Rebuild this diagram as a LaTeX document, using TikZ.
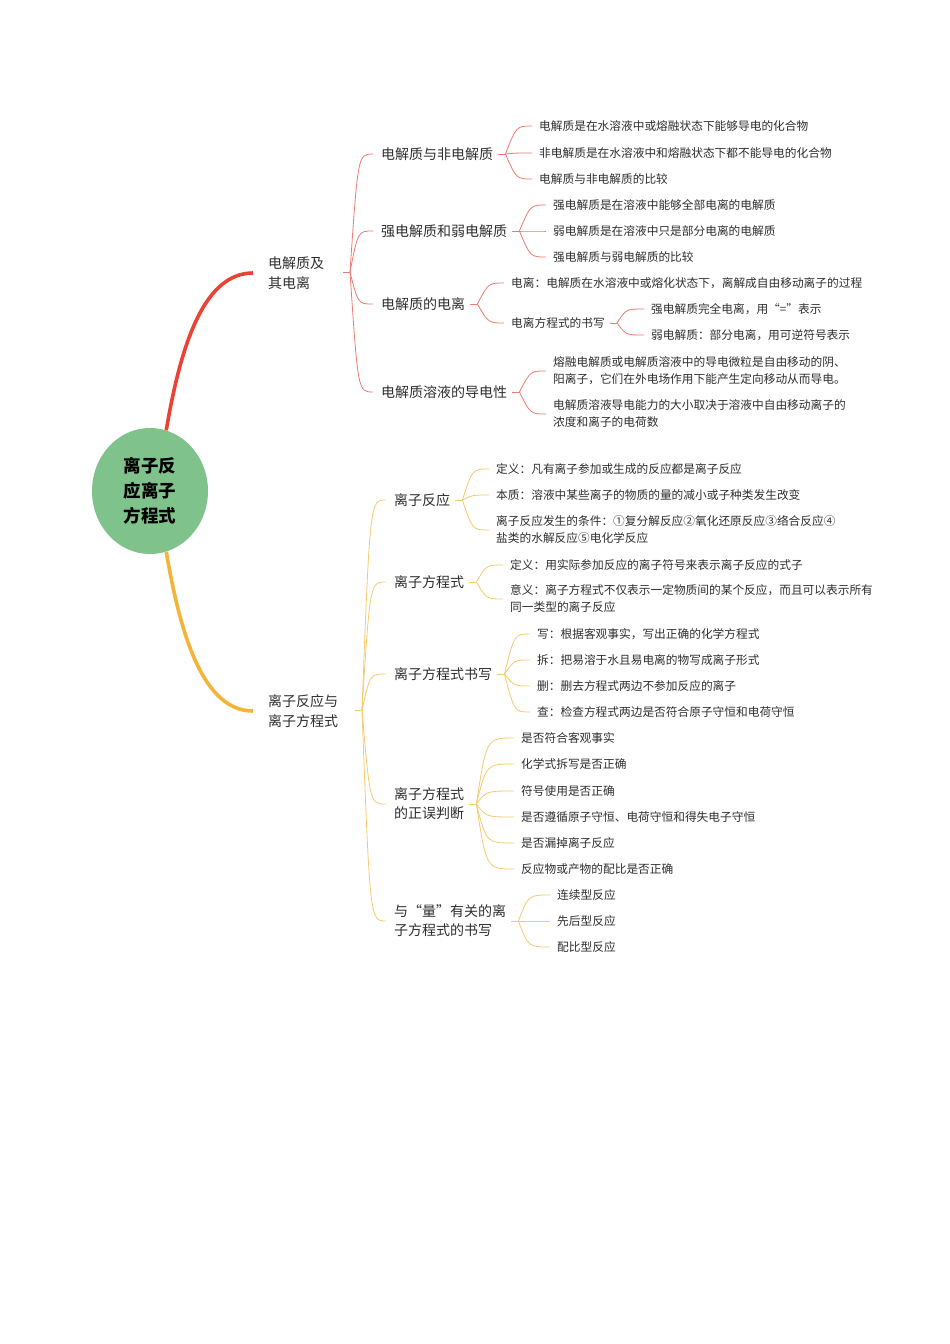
\documentclass[tikz,border=0pt]{standalone}
\usepackage{fontspec}
\setmainfont{Noto Sans CJK SC}
\usetikzlibrary{calc,shapes.geometric}
\definecolor{rootgreen}{HTML}{7FC28B}
\definecolor{redmain}{HTML}{EA4335}
\definecolor{redthin}{HTML}{EC7A72}
\definecolor{yelmain}{HTML}{F4B43A}
\definecolor{yelthin}{HTML}{F5C970}
\definecolor{txtgray}{HTML}{2E2E2E}

\begin{document}
\begin{tikzpicture}[x=1pt,y=-1pt,
  root/.style={ellipse,fill=rootgreen,minimum width=116pt,minimum height=126pt,inner sep=0pt,align=center,font=\fontsize{17.5}{25}\selectfont\bfseries},
  lvone/.style={anchor=west,inner sep=0pt,yshift=-1pt,align=left,text=txtgray,font=\fontsize{14}{20}\selectfont},
  lvtwo/.style={anchor=west,inner sep=0pt,yshift=-1pt,align=left,text=txtgray,font=\fontsize{14}{19}\selectfont},
  leaf/.style={anchor=west,inner sep=0pt,yshift=-1pt,align=left,text=txtgray,font=\fontsize{11.7}{17}\selectfont},
  redthick/.style={draw=redmain,line width=3.6pt},
  yelthick/.style={draw=yelmain,line width=3.6pt},
  redln/.style={draw=redthin,line width=0.8pt},
  yelln/.style={draw=yelthin,line width=0.8pt}
]
\useasboundingbox (0,0) rectangle (950,1344);

% root and first level
\node[root] (root) at (150,491) {离子反\\应离子\\方程式};
\node[lvone] (elec) at (268,272) {电解质及\\其电离};
\node[lvone] (ionr) at (268,710) {离子反应与\\离子方程式};

\draw[redthick] (root.75) .. controls +(15,-89) and +(-48,0) .. ($(elec.west)+(-15,0)$);
\draw[yelthick] (root.-75) .. controls +(15,89) and +(-48,0) .. ($(ionr.west)+(-15,0)$);

% electrolytes
\coordinate (jelec) at (350,272);
\node[lvtwo] (nonel) at (381,153) {电解质与非电解质};
\node[lvtwo] (strong) at (381,230) {强电解质和弱电解质};
\node[lvtwo] (ioniz) at (381,303) {电解质的电离};
\node[lvtwo] (cond) at (381,391) {电解质溶液的导电性};

\node[leaf] (na) at (539,125) {电解质是在水溶液中或熔融状态下能够导电的化合物};
\node[leaf] (nb) at (539,152) {非电解质是在水溶液中和熔融状态下都不能导电的化合物};
\node[leaf] (nc) at (539,178) {电解质与非电解质的比较};
\node[leaf] (sa) at (553,204) {强电解质是在溶液中能够全部电离的电解质};
\node[leaf] (sb) at (553,230) {弱电解质是在溶液中只是部分电离的电解质};
\node[leaf] (sc) at (553,256) {强电解质与弱电解质的比较};
\node[leaf] (ia) at (511,282) {电离：电解质在水溶液中或熔化状态下，离解成自由移动离子的过程};
\node[leaf] (ib) at (511,322) {电离方程式的书写};
\node[leaf] (iba) at (651,308) {强电解质完全电离，用“=”表示};
\node[leaf] (ibb) at (651,334) {弱电解质：部分电离，用可逆符号表示};
\node[leaf] (ca) at (553,370) {熔融电解质或电解质溶液中的导电微粒是自由移动的阴、\\阳离子，它们在外电场作用下能产生定向移动从而导电。};
\node[leaf] (cb) at (553,413) {电解质溶液导电能力的大小取决于溶液中自由移动离子的\\浓度和离子的电荷数};

\draw[redln] ($(jelec)+(-7,0)$) -- (jelec);
\foreach \t in {nonel,strong,ioniz,cond}
  \draw[redln] (jelec) .. controls ($(jelec |- \t.west)+(8,0)$) .. ($(\t.west)+(-8,0)$);

\coordinate (jnonel) at ($(nonel.east)+(12,0)$);
\coordinate (jstrong) at ($(strong.east)+(12,0)$);
\coordinate (jioniz) at ($(ioniz.east)+(12,0)$);
\coordinate (jib) at ($(ib.east)+(12,0)$);
\coordinate (jcond) at ($(cond.east)+(12,0)$);
\foreach \p in {nonel,strong,ioniz,ib,cond}
  \draw[redln] ($(\p.east)+(5,0)$) -- (j\p);
\foreach \t in {na,nb,nc}
  \draw[redln] (jnonel) .. controls ($(jnonel |- \t.west)+(11,0)$) .. ($(\t.west)+(-7,0)$);
\foreach \t in {sa,sb,sc}
  \draw[redln] (jstrong) .. controls ($(jstrong |- \t.west)+(11,0)$) .. ($(\t.west)+(-7,0)$);
\foreach \t in {ia,ib}
  \draw[redln] (jioniz) .. controls ($(jioniz |- \t.west)+(11,0)$) .. ($(\t.west)+(-7,0)$);
\foreach \t in {iba,ibb}
  \draw[redln] (jib) .. controls ($(jib |- \t.west)+(9,0)$) .. ($(\t.west)+(-7,0)$);
\foreach \t in {ca,cb}
  \draw[redln] (jcond) .. controls ($(jcond |- \t.west)+(11,0)$) .. ($(\t.west)+(-7,0)$);

% ionic reactions
\coordinate (jionr) at (362,710);
\node[lvtwo] (react) at (394,499) {离子反应};
\node[lvtwo] (equ) at (394,581) {离子方程式};
\node[lvtwo] (write) at (394,673) {离子方程式书写};
\node[lvtwo] (judge) at (394,803) {离子方程式\\的正误判断};
\node[lvtwo] (amount) at (394,920) {与“量”有关的离\\子方程式的书写};

\node[leaf] (ra) at (496,468) {定义：凡有离子参加或生成的反应都是离子反应};
\node[leaf] (rb) at (496,494) {本质：溶液中某些离子的物质的量的减小或子种类发生改变};
\node[leaf] (rc) at (496,529) {离子反应发生的条件：①复分解反应②氧化还原反应③络合反应④\\盐类的水解反应⑤电化学反应};
\node[leaf] (ea) at (510,564) {定义：用实际参加反应的离子符号来表示离子反应的式子};
\node[leaf] (eb) at (510,598) {意义：离子方程式不仅表示一定物质间的某个反应，而且可以表示所有\\同一类型的离子反应};
\node[leaf] (wa) at (537,633) {写：根据客观事实，写出正确的化学方程式};
\node[leaf] (wb) at (537,659) {拆：把易溶于水且易电离的物写成离子形式};
\node[leaf] (wc) at (537,685) {删：删去方程式两边不参加反应的离子};
\node[leaf] (wd) at (537,711) {查：检查方程式两边是否符合原子守恒和电荷守恒};
\node[leaf] (ja) at (521,737) {是否符合客观事实};
\node[leaf] (jb) at (521,763) {化学式拆写是否正确};
\node[leaf] (jc) at (521,790) {符号使用是否正确};
\node[leaf] (jd) at (521,816) {是否遵循原子守恒、电荷守恒和得失电子守恒};
\node[leaf] (je) at (521,842) {是否漏掉离子反应};
\node[leaf] (jf) at (521,868) {反应物或产物的配比是否正确};
\node[leaf] (qa) at (557,894) {连续型反应};
\node[leaf] (qb) at (557,920) {先后型反应};
\node[leaf] (qc) at (557,946) {配比型反应};

\draw[yelln] ($(jionr)+(-7,0)$) -- (jionr);
\foreach \t in {react,equ,write,judge,amount}
  \draw[yelln] (jionr) .. controls ($(jionr |- \t.west)+(8,0)$) .. ($(\t.west)+(-8,0)$);

\coordinate (jreact) at ($(react.east)+(12,0)$);
\coordinate (jequ) at ($(equ.east)+(12,0)$);
\coordinate (jwrite) at ($(write.east)+(12,0)$);
\coordinate (jjudge) at ($(judge.east)+(12,0)$);
\coordinate (jamount) at ($(amount.east)+(12,0)$);
\foreach \p in {react,equ,write,judge,amount}
  \draw[yelln] ($(\p.east)+(5,0)$) -- (j\p);
\foreach \t in {ra,rb,rc}
  \draw[yelln] (jreact) .. controls ($(jreact |- \t.west)+(10,0)$) .. ($(\t.west)+(-7,0)$);
\foreach \t in {ea,eb}
  \draw[yelln] (jequ) .. controls ($(jequ |- \t.west)+(10,0)$) .. ($(\t.west)+(-7,0)$);
\foreach \t in {wa,wb,wc,wd}
  \draw[yelln] (jwrite) .. controls ($(jwrite |- \t.west)+(10,0)$) .. ($(\t.west)+(-7,0)$);
\foreach \t in {ja,jb,jc,jd,je,jf}
  \draw[yelln] (jjudge) .. controls ($(jjudge |- \t.west)+(10,0)$) .. ($(\t.west)+(-7,0)$);
\foreach \t in {qa,qb,qc}
  \draw[yelln] (jamount) .. controls ($(jamount |- \t.west)+(10,0)$) .. ($(\t.west)+(-7,0)$);
\end{tikzpicture}
\end{document}
